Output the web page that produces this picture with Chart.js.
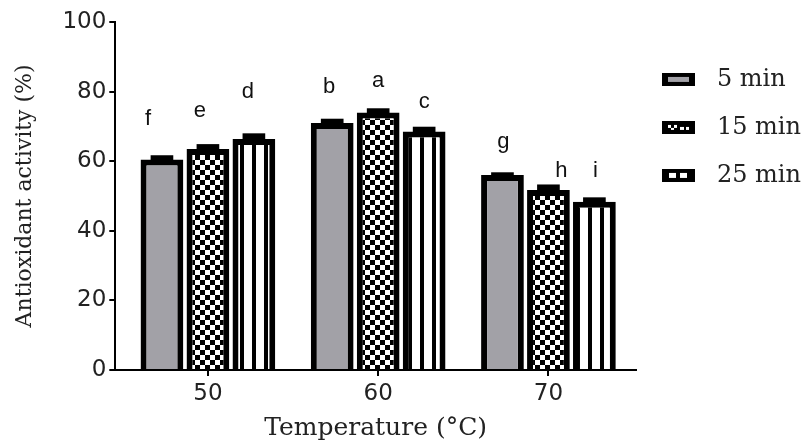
<!DOCTYPE html>
<html lang="en">
<head>
    <meta charset="UTF-8">
    <title>Antioxidant activity</title>
    <script src="https://cdn.jsdelivr.net/npm/chart.js"></script>
    <style>
        body { margin: 0; background: white; }
        #wrap { width: 811px; height: 447px; }
    </style>
</head>
<body>

<div id="wrap"><canvas id="chart" width="811" height="447"></canvas></div>

<script>
    const temperature = [50, 60, 70];
    const seriesNames = ["5 min", "15 min", "25 min"];
    const min5 = [60.5, 71.0, 56.0];
    const min15 = [63.5, 74.0, 51.7];
    const min25 = [66.4, 68.5, 48.3];
    const err5 = [1.2, 1.2, 0.8];
    const err15 = [1.4, 1.2, 1.6];
    const err25 = [1.6, 1.4, 1.3];
    // significance letters and the height (%) at which each one sits
    const letters5 = ["f", "b", "g"];
    const letters15 = ["e", "a", "h"];
    const letters25 = ["d", "c", "i"];
    const letterAt5 = [70.4, 79.6, 63.8];
    const letterAt15 = [72.7, 81.3, 55.5];
    const letterAt25 = [78.2, 75.3, 55.5];
    const xTicks = [50, 60, 70];
    const yTicks = [0, 20, 40, 60, 80, 100];

    const grey = "#a2a1a7";

    // fills for the bars
    function checkerPattern() {
        const c = document.createElement("canvas");
        c.width = 10; c.height = 10;
        const g = c.getContext("2d");
        g.fillStyle = "white"; g.fillRect(0, 0, 10, 10);
        g.fillStyle = "black";
        g.fillRect(0, 0, 5, 5);
        g.fillRect(5, 5, 5, 5);
        return g.createPattern(c, "repeat");
    }
    function stripePattern() {
        const c = document.createElement("canvas");
        c.width = 12; c.height = 4;
        const g = c.getContext("2d");
        g.fillStyle = "white"; g.fillRect(0, 0, 12, 4);
        g.fillStyle = "black"; g.fillRect(0, 0, 4, 4);
        return g.createPattern(c, "repeat");
    }

    // legend swatches: black block with a small inner mark (blank margin on the left)
    function swatch(kind) {
        const c = document.createElement("canvas");
        c.width = 51; c.height = 13;
        const g = c.getContext("2d");
        g.translate(5, 0);
        g.fillStyle = "black"; g.fillRect(0, 0, 33, 13);
        if (kind === 0) {
            g.fillStyle = grey; g.fillRect(6, 4, 21, 5);
        } else if (kind === 1) {
            g.fillStyle = "white";
            g.fillRect(6, 4, 3, 3); g.fillRect(12, 4, 3, 3);
            g.fillRect(9, 7, 3, 2); g.fillRect(18, 6, 4, 3); g.fillRect(24, 6, 3, 3);
        } else {
            g.fillStyle = "white";
            g.fillRect(7, 4, 7, 5); g.fillRect(18, 4, 7, 5);
        }
        return c;
    }

    const points = vals => vals.map((v, i) => ({ x: temperature[i], y: v }));
    const errors = [err5, err15, err25];
    const letters = [letters5, letters15, letters25];
    const letterAt = [letterAt5, letterAt15, letterAt25];
    const letterNudge = [[-14, -3, 1], [-8, 0, 13], [-6, 0, 1]]; // px, as placed in the figure

    const errorBars = {
        id: "errorBars",
        afterDatasetsDraw(chart) {
            const ctx = chart.ctx;
            const y = chart.scales.y;
            ctx.save();
            chart.data.datasets.forEach((ds, di) => {
                chart.getDatasetMeta(di).data.forEach((bar, i) => {
                    const top = y.getPixelForValue(ds.data[i].y + errors[di][i]);
                    const w = bar.width * 0.53;
                    ctx.fillStyle = "black";
                    ctx.fillRect(bar.x - w / 2, top, w, bar.y - top + 2);
                    ctx.font = "22px 'Liberation Sans', Arial, sans-serif";
                    ctx.fillStyle = "#111";
                    ctx.textAlign = "center";
                    ctx.textBaseline = "alphabetic";
                    ctx.fillText(letters[di][i], bar.x + letterNudge[di][i], y.getPixelForValue(letterAt[di][i]));
                });
            });
            ctx.restore();
        }
    };

    new Chart(document.getElementById("chart"), {
        type: "bar",
        data: {
            datasets: [
                { label: seriesNames[0], data: points(min5), backgroundColor: grey, pointStyle: swatch(0) },
                { label: seriesNames[1], data: points(min15), backgroundColor: checkerPattern(), pointStyle: swatch(1) },
                { label: seriesNames[2], data: points(min25), backgroundColor: stripePattern(), pointStyle: swatch(2) }
            ]
        },
        options: {
            responsive: false,
            animation: false,
            layout: { padding: { top: 22, right: 0, left: 12, bottom: 5 } },
            datasets: {
                bar: {
                    borderColor: "black",
                    borderWidth: 6,
                    categoryPercentage: 0.81,
                    barPercentage: 0.93
                }
            },
            plugins: {
                tooltip: { enabled: false },
                legend: {
                    position: "right",
                    align: "start",
                    title: { display: true, text: "", padding: { top: 7, bottom: 0 } },
                    labels: {
                        usePointStyle: true,
                        pointStyleWidth: 45,
                        boxHeight: 13,
                        padding: 24,
                        color: "#222",
                        font: { family: "'DejaVu Serif', serif", size: 24 }
                    }
                }
            },
            scales: {
                x: {
                    type: "linear",
                    offset: false,
                    min: 44.56,
                    max: 75.14,
                    afterBuildTicks: axis => { axis.ticks = xTicks.map(v => ({ value: v })); },
                    grid: { offset: false, drawOnChartArea: false, color: "black", lineWidth: 2, tickLength: 6 },
                    border: { color: "black", width: 2 },
                    ticks: { color: "#222", padding: 4, font: { family: "'DejaVu Sans', sans-serif", size: 23 } },
                    title: { display: true, text: "Temperature (°C)", color: "#222", padding: { top: 3, bottom: 0 },
                             font: { family: "'DejaVu Serif', serif", size: 25, lineHeight: 1.1 } }
                },
                y: {
                    min: 0,
                    max: 100,
                    afterBuildTicks: axis => { axis.ticks = yTicks.map(v => ({ value: v })); },
                    grid: { drawOnChartArea: false, color: "black", lineWidth: 2, tickLength: 6 },
                    border: { color: "black", width: 2 },
                    ticks: { color: "#222", padding: 3, font: { family: "'DejaVu Sans', sans-serif", size: 23 } },
                    title: { display: true, text: "Antioxidant activity (%)", color: "#222", padding: { top: 0, bottom: 21 },
                             font: { family: "'DejaVu Serif', serif", size: 22 } }
                }
            }
        },
        plugins: [errorBars]
    });
</script>

</body>
</html>
